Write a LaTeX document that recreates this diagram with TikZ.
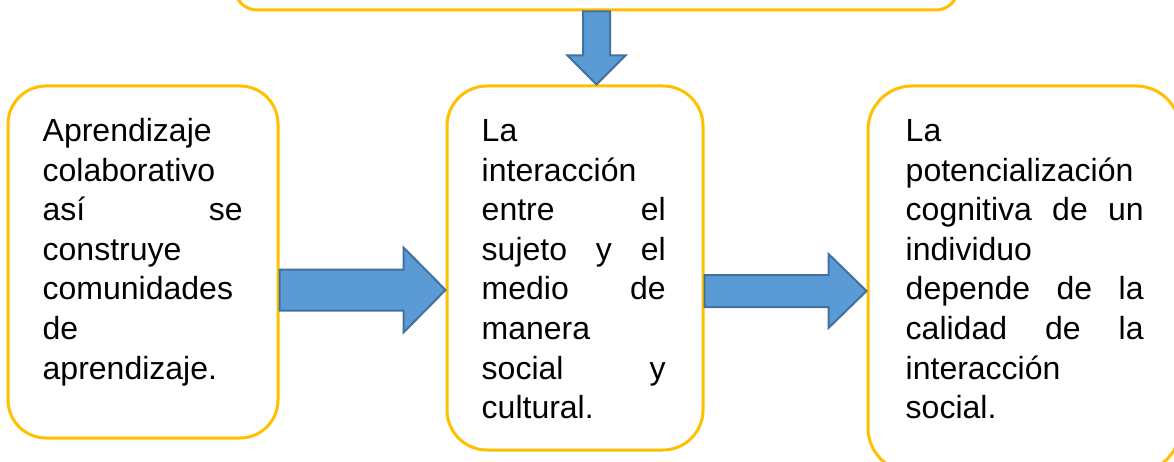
\documentclass[tikz,border=0pt]{standalone}
\usepackage{fontspec}
\setmainfont{Liberation Sans}
\usetikzlibrary{calc}
\definecolor{boxline}{HTML}{FFC000}
\definecolor{arrfill}{HTML}{5B9BD5}
\definecolor{arrline}{HTML}{41719C}
\newcommand\justln[1]{\makebox[\linewidth][s]{#1}}
\tikzset{
  card/.style={draw=boxline, line width=3pt, fill=white, inner sep=0pt},
  blockarrow/.style={fill=arrfill, draw=arrline, line width=2pt, line join=miter},
  txt/.style={inner sep=0pt, anchor=base west, font=\fontsize{32}{39.6}\selectfont}
}
\begin{document}
\begin{tikzpicture}[x=1pt,y=-1pt]
\clip (0,0) rectangle (1174,462);
\fill[white] (0,0) rectangle (1174,462);
% boxes
\node[card, rounded corners=22pt, minimum width=723pt, minimum height=70pt] (T) at (596.5,-25) {};
\node[card, rounded corners=38pt, minimum width=270pt, minimum height=352pt] (L) at (143,262) {};
\node[card, rounded corners=40pt, minimum width=256pt, minimum height=364pt] (M) at (575,268) {};
\node[card, rounded corners=44pt, minimum width=312pt, minimum height=386pt] (R) at (1024,279) {};
% texts
\node[txt] (Lt) at ($(L.north west)+(36,57)$) {\parbox[t]{200pt}{%
Aprendizaje\\
colaborativo\\
\justln{así se}\\
construye\\
comunidades\\
de\\
aprendizaje.}};
\node[txt] (Mt) at ($(M.north west)+(36,57)$) {\parbox[t]{184pt}{%
La\\
interacción\\
\justln{entre el}\\
\justln{sujeto y el}\\
\justln{medio de}\\
manera\\
\justln{social y}\\
cultural.}};
\node[txt] (Rt) at ($(R.north west)+(39,57)$) {\parbox[t]{238pt}{%
La\\
potencialización\\
\justln{cognitiva de un}\\
individuo\\
\justln{depende de la}\\
\justln{calidad de la}\\
interacción\\
social.}};
% down arrow
\coordinate (d0) at (T.south);
\coordinate (d1) at (d0 |- M.north);
\draw[blockarrow] ($(d0)+(-13.5,0)$) -- ($(d1)+(-13.5,-29)$) -- ($(d1)+(-29,-29)$) -- (d1)
  -- ($(d1)+(29,-29)$) -- ($(d1)+(13.5,-29)$) -- ($(d0)+(13.5,0)$) -- cycle;
% arrow left -> middle
\coordinate (h1) at (0,290);
\coordinate (a0) at (L.east |- h1);
\coordinate (a1) at (M.west |- h1);
\draw[blockarrow] ($(a0)+(0,-20.5)$) -- ($(a1)+(-42,-20.5)$) -- ($(a1)+(-42,-42.5)$) -- (a1)
  -- ($(a1)+(-42,42.5)$) -- ($(a1)+(-42,20.5)$) -- ($(a0)+(0,20.5)$) -- cycle;
% arrow middle -> right
\coordinate (h2) at (0,291);
\coordinate (b0) at (M.east |- h2);
\coordinate (b1) at (R.west |- h2);
\draw[blockarrow] ($(b0)+(0,-16)$) -- ($(b1)+(-38,-16)$) -- ($(b1)+(-38,-37)$) -- (b1)
  -- ($(b1)+(-38,37)$) -- ($(b1)+(-38,16)$) -- ($(b0)+(0,16)$) -- cycle;
\end{tikzpicture}
\end{document}
